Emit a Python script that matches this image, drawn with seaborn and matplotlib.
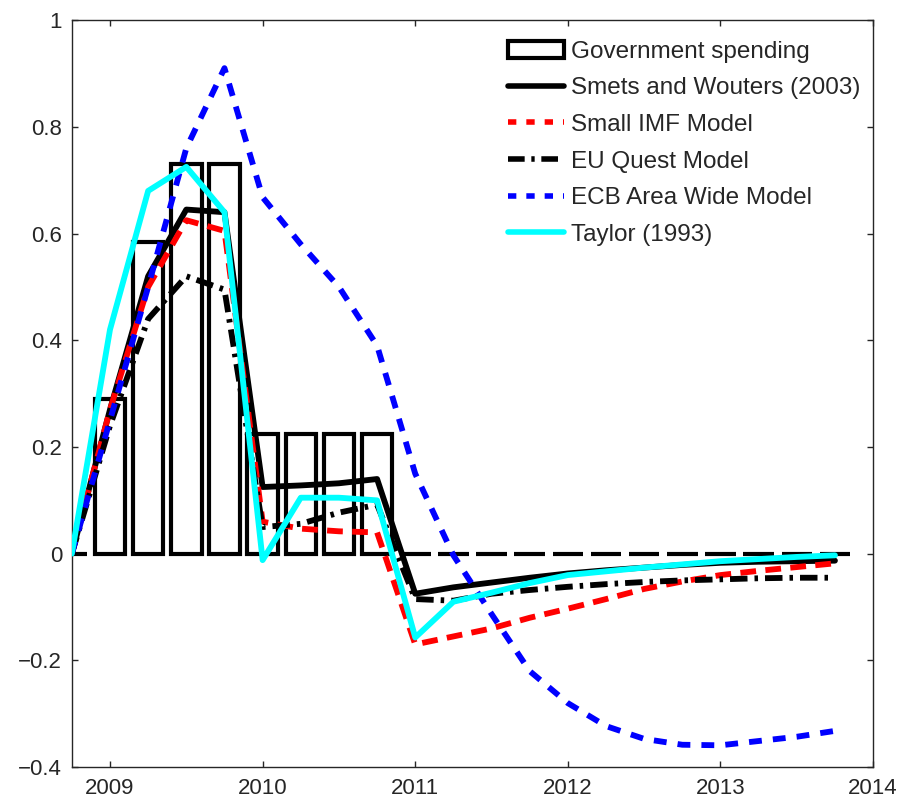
import numpy as np
import pandas as pd
import matplotlib
matplotlib.use("Agg")
import matplotlib.pyplot as plt
import seaborn as sns
from matplotlib.patches import Patch
from matplotlib.lines import Line2D

# quarters from 2008Q4 to 2013Q4
quarters = [2008.75 + 0.25 * i for i in range(21)]

gov_spending = [0.0, 0.29, 0.585, 0.73, 0.73, 0.225, 0.225, 0.225, 0.225,
                0, 0, 0, 0, 0, 0, 0, 0, 0, 0, 0, 0]
smets_wouters = [0.0, 0.27, 0.52, 0.645, 0.64, 0.125, 0.128, 0.132, 0.14,
                 -0.075, -0.063, -0.054, -0.045, -0.037, -0.031, -0.026, -0.021,
                 -0.017, -0.015, -0.014, -0.013]
small_imf = [0.0, 0.27, 0.5, 0.625, 0.605, 0.06, 0.047, 0.042, 0.04,
             -0.17, -0.155, -0.14, -0.12, -0.103, -0.085, -0.066, -0.052,
             -0.04, -0.032, -0.025, -0.018]
eu_quest = [0.0, 0.24, 0.44, 0.52, 0.495, 0.05, 0.056, 0.077, 0.092,
            -0.085, -0.088, -0.075, -0.068, -0.062, -0.057, -0.053, -0.05,
            -0.048, -0.046, -0.045, -0.045]
ecb_awm = [0.0, 0.25, 0.5, 0.76, 0.91, 0.668, 0.58, 0.5, 0.39,
           0.15, -0.003, -0.113, -0.22, -0.28, -0.323, -0.347, -0.358,
           -0.359, -0.351, -0.343, -0.332]
taylor = [0.0, 0.42, 0.68, 0.725, 0.64, -0.012, 0.105, 0.105, 0.1,
          -0.157, -0.09, -0.073, -0.055, -0.04, -0.033, -0.026, -0.02,
          -0.014, -0.01, -0.006, -0.003]

x_ticks = [2009, 2010, 2011, 2012, 2013, 2014]
y_ticks = [-0.4, -0.2, 0, 0.2, 0.4, 0.6, 0.8, 1]
y_ticklabels = ['\u22120.4', '\u22120.2', '0', '0.2', '0.4', '0.6', '0.8', '1']

sns.set_style("ticks")
plt.rcParams['font.family'] = ['Liberation Sans', 'DejaVu Sans']

fig = plt.figure(figsize=(9.21, 8.05), dpi=100)
ax = fig.add_axes([0.078, 0.047, 0.870, 0.928])

df = pd.DataFrame({'quarter': quarters, 'gov': gov_spending})
sns.barplot(data=df, x='quarter', y='gov', native_scale=True, width=0.8,
            facecolor='white', edgecolor='black', linewidth=3, ax=ax, zorder=1)

series = [
    (smets_wouters, 'black', None),
    (small_imf, 'red', (2.7, 1.6)),
    (eu_quest, 'black', (3, 1.2, 0.6, 1.2)),
    (ecb_awm, 'blue', (2.2, 1.9)),
    (taylor, 'cyan', None),
]
for vals, col, dashes in series:
    sns.lineplot(x=quarters, y=vals, color=col, linewidth=4.2, ax=ax, zorder=3)
    if dashes is not None:
        ax.lines[-1].set_dashes(dashes)

ax.set_xlim(2008.75, 2014)
ax.set_ylim(-0.4, 1)
ax.set_xticks(x_ticks)
ax.set_xticklabels([str(t) for t in x_ticks])
ax.set_yticks(y_ticks)
ax.set_yticklabels(y_ticklabels)
ax.tick_params(axis='both', labelsize=16, length=4, width=1,
               top=True, right=True, direction='in')
ax.tick_params(axis='x', pad=8)
ax.tick_params(axis='y', pad=7)
ax.set_xlabel('')
ax.set_ylabel('')
for sp in ax.spines.values():
    sp.set_linewidth(1)
    sp.set_visible(True)

handles = [
    Patch(facecolor='white', edgecolor='black', linewidth=3),
    Line2D([], [], color='black', linewidth=4),
    Line2D([], [], color='red', linewidth=4, dashes=(1.5, 1.8)),
    Line2D([], [], color='black', linewidth=4, dashes=(3, 1.2, 0.6, 1.2)),
    Line2D([], [], color='blue', linewidth=4, dashes=(1.5, 1.8)),
    Line2D([], [], color='cyan', linewidth=4),
]
labels = ['Government spending', 'Smets and Wouters (2003)', 'Small IMF Model',
          'EU Quest Model', 'ECB Area Wide Model', 'Taylor (1993)']
ax.legend(handles, labels, loc='upper right', bbox_to_anchor=(1.01, 1.0),
          frameon=False, fontsize=17.5,
          handlelength=2.3, handletextpad=0.3, labelspacing=0.6,
          borderaxespad=0.5, borderpad=0.35)

fig.savefig('out.png', dpi=100)
